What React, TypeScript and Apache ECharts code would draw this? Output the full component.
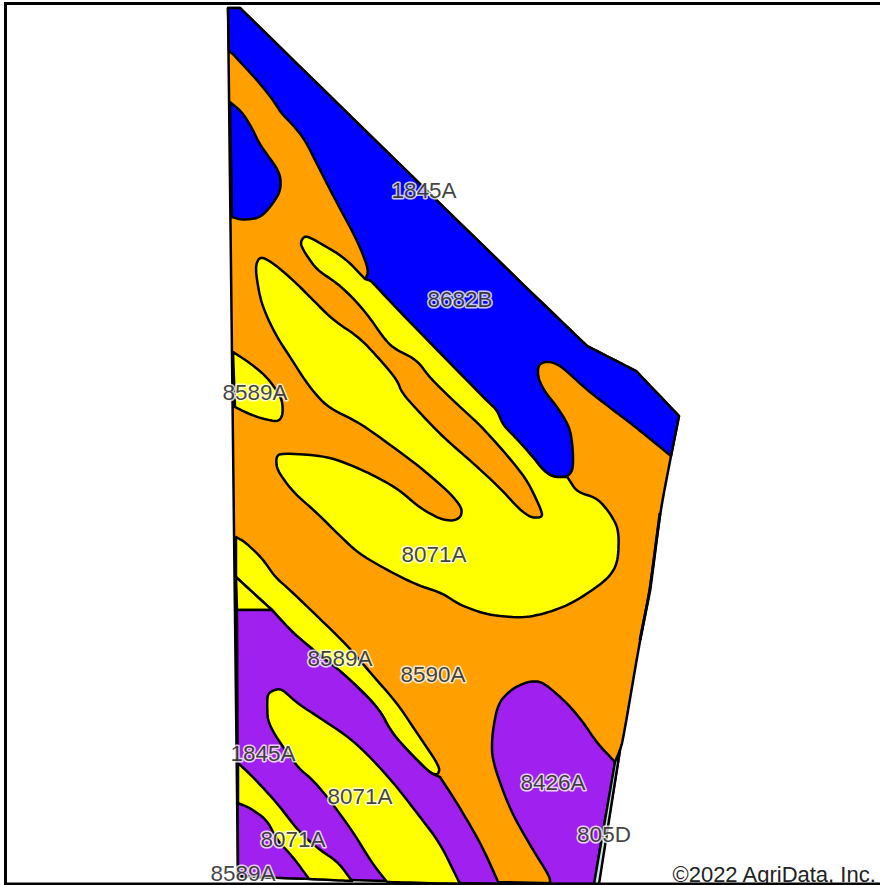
import React, { useEffect, useRef } from "react";
import * as echarts from "echarts";

type Pt = [number, number];

// A repeated point marks a sharp corner; everything else is rounded when drawn.
const fieldOutline: Pt[] = [[228,8],[228,8],[240,8],[240,8],[510,272],[587,346],[587,346],[636,371],[636,371],[679,416],[679,416],[671,456],[671,456],[660,513],[650,590],[640,640],[623,740],[620,750],[620,750],[598,884],[598,884],[275,878],[238,876],[238,876]];
const blueNorth: Pt[] = [[228,8],[228,8],[240,8],[240,8],[510,272],[587,346],[587,346],[636,371],[636,371],[679,416],[679,416],[671,456],[671,456],[633,425],[613,410],[587,390],[560,365],[547,361],[538,365],[538,378],[545,392],[558,408],[570,428],[573,450],[573,470],[567,477],[553,477],[543,470],[533,457],[515,437],[503,425],[497,410],[488,402],[400,312],[371,281],[365,280],[369,270],[357,240],[337,203],[320,170],[305,140],[293,125],[281,113],[273,100],[257,80],[243,65],[231,52],[229,52],[229,52]];
const blueWest: Pt[] = [[230,102],[230,102],[242,112],[252,128],[260,145],[280,172],[281,190],[272,205],[260,218],[242,220],[232,217],[232,217]];
const yellowMain: Pt[] = [[305,235],[320,243],[345,258],[365,279],[365,279],[371,281],[371,281],[400,312],[488,402],[497,410],[503,425],[515,437],[533,457],[543,470],[553,477],[567,477],[567,477],[568,478],[577,492],[597,498],[610,513],[619,530],[618,563],[607,580],[573,603],[547,613],[523,618],[488,615],[460,605],[442,593],[417,585],[387,570],[358,553],[337,533],[317,513],[293,492],[277,470],[276,458],[280,453],[327,456],[363,470],[397,488],[420,508],[440,519],[453,521],[461,517],[462,508],[450,493],[420,467],[393,447],[360,423],[327,407],[308,385],[292,360],[277,337],[267,317],[260,298],[255,267],[260,256],[273,263],[293,280],[313,300],[333,320],[360,338],[383,363],[397,380],[402,393],[420,413],[443,437],[473,463],[500,488],[520,510],[532,518],[543,517],[540,507],[527,480],[507,455],[480,425],[460,407],[430,378],[417,360],[393,348],[383,337],[370,318],[355,300],[337,283],[317,270],[305,253],[300,243]];
const yellowWest: Pt[] = [[233,352],[233,352],[250,363],[267,377],[282,398],[283,415],[278,422],[260,418],[247,413],[235,407],[235,407]];
const yellowStrip: Pt[] = [[236,537],[236,537],[245,542],[262,558],[275,577],[290,590],[347,645],[368,670],[397,703],[417,733],[440,767],[438,775],[430,773],[410,753],[392,733],[378,707],[343,673],[317,653],[292,632],[272,610],[272,610],[250,590],[236,577],[236,577]];
const yellowCorner: Pt[] = [[236,577],[236,577],[250,590],[272,610],[272,610],[237,610],[237,610]];
const purpleWest: Pt[] = [[237,610],[237,610],[272,610],[272,610],[292,632],[317,653],[343,673],[378,707],[392,733],[410,753],[430,773],[440,777],[440,777],[457,803],[477,837],[487,857],[499,884],[499,884],[275,878],[238,876],[238,876]];
const yellowLens: Pt[] = [[268,693],[277,689],[283,690],[297,703],[320,718],[350,738],[373,760],[397,787],[417,813],[440,843],[460,884],[460,884],[387,882],[387,882],[372,863],[353,832],[332,803],[313,780],[297,767],[268,725],[267,703]];
const yellowSouth: Pt[] = [[238,763],[238,763],[253,777],[277,803],[300,833],[320,850],[338,862],[352,881],[352,881],[309,879],[309,879],[293,857],[277,840],[267,820],[250,808],[238,803],[238,803]];
const purpleEast: Pt[] = [[615,762],[615,762],[597,743],[583,722],[567,703],[543,682],[530,681],[513,688],[498,703],[492,735],[492,760],[510,810],[533,850],[550,877],[550,884],[550,884],[595,884],[595,884],[597,867],[603,830],[615,770],[615,770]];
const paleStrip: Pt[] = [[615,762],[615,762],[620,750],[620,750],[599,884],[599,884],[594,884],[594,884]];
const eastEdge: Pt[] = [[660,513],[650,590],[640,640]];
const frameEdge: Pt[] = [[880,3.5],[5.5,3.5],[5.5,884],[880,884]];

const unitShapes: Pt[][] = [fieldOutline, blueNorth, blueWest, yellowMain, yellowWest, yellowStrip, yellowCorner, purpleWest, yellowLens, yellowSouth, purpleEast, paleStrip];
const unitColors: string[] = ["#FFA000", "#0000FF", "#0000FF", "#FFFF00", "#FFFF00", "#FFFF00", "#FFFF00", "#A020F0", "#FFFF00", "#FFFF00", "#A020F0", "#CDE8E2"];

const labelTexts: string[] = ["1845A", "8682B", "8589A", "8071A", "8589A", "8590A", "1845A", "8071A", "8426A", "805D", "8071A", "8589A"];
const labelX: number[] = [424, 460, 255, 434, 340, 433, 263, 360, 553, 604, 293, 243];
const labelY: number[] = [190, 299, 392, 554, 658, 674, 753, 796, 782, 834, 839, 873];
const copyrightText = "©2022 AgriData, Inc.";

const round = (pts: number[][]): number[][] => {
  let cur = pts;
  for (let k = 0; k < 3; k++) {
    const next: number[][] = [];
    cur.forEach((a, i) => {
      const b = cur[(i + 1) % cur.length];
      next.push([a[0] * 0.78 + b[0] * 0.22, a[1] * 0.78 + b[1] * 0.22]);
      next.push([a[0] * 0.22 + b[0] * 0.78, a[1] * 0.22 + b[1] * 0.78]);
    });
    cur = next;
  }
  return cur;
};

export default function App() {
  const ref = useRef<HTMLDivElement>(null);
  useEffect(() => {
    document.body.style.margin = "0";
    const chart = echarts.init(ref.current!, undefined, { renderer: "svg" });
    const font = "Liberation Sans";
    chart.setOption({
      animation: false,
      backgroundColor: "#fff",
      grid: { left: 0, right: 0, top: 0, bottom: 0 },
      xAxis: { type: "value", min: 0, max: 880, show: false },
      yAxis: { type: "value", min: 0, max: 885, inverse: true, show: false },
      series: [
        {
          type: "custom",
          silent: true,
          clip: false,
          z: 2,
          data: unitShapes.map((_, i) => [i]),
          renderItem: (params: any, api: any) => {
            const i = params.dataIndex;
            return {
              type: "polygon",
              shape: { points: round(unitShapes[i].map((p) => api.coord(p))) },
              style: { fill: unitColors[i], stroke: "#000", lineWidth: 2.5, lineJoin: "round" },
            };
          },
        },
        {
          type: "line",
          silent: true,
          z: 3,
          symbol: "none",
          data: eastEdge,
          lineStyle: { color: "#000", width: 3 },
        },
        {
          type: "scatter",
          silent: true,
          z: 5,
          symbolSize: 0,
          data: labelTexts.map((t, i) => ({ name: t, value: [labelX[i], labelY[i]] })),
          label: {
            show: true,
            position: "inside",
            formatter: "{b}",
            fontFamily: font,
            fontSize: 22.5,
            color: "#111",
            textBorderColor: "#fff",
            textBorderWidth: 3,
          },
        },
        {
          type: "line",
          silent: true,
          z: 20,
          symbol: "none",
          clip: false,
          data: frameEdge,
          lineStyle: { color: "#000", width: 3, join: "miter" },
        },
      ],
      graphic: [
        {
          type: "text",
          z: 10,
          silent: true,
          right: 3,
          top: 863,
          style: { text: copyrightText, font: `22px "${font}"`, fill: "#222" },
        },
      ],
    });
    return () => chart.dispose();
  }, []);
  return (
    <>
      <style>{"text { paint-order: stroke fill markers !important; stroke-linejoin: round !important; }"}</style>
      <div ref={ref} style={{ position: "fixed", left: 0, top: 0, width: 880, height: 885 }} />
    </>
  );
}
